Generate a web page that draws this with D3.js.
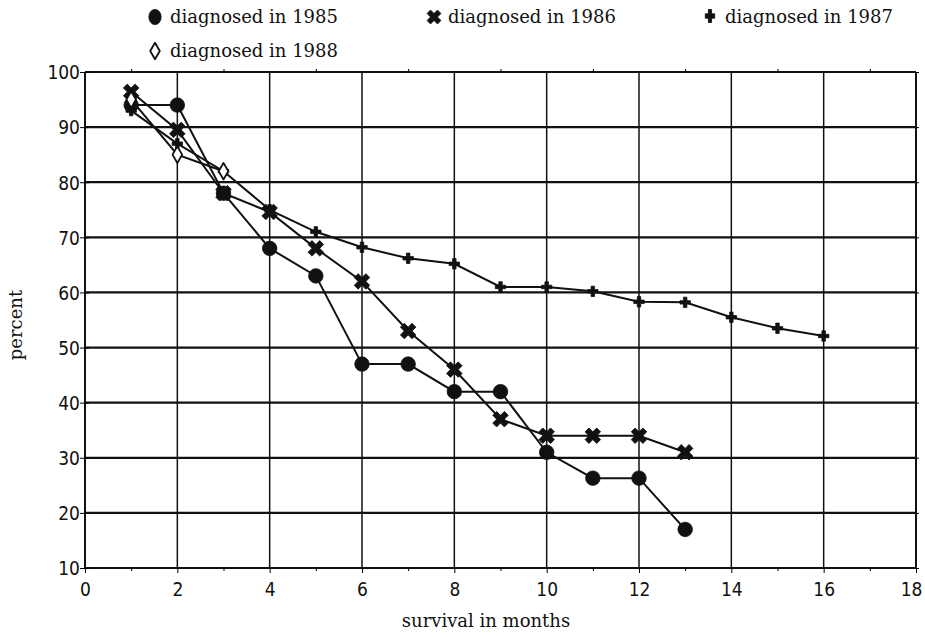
<!DOCTYPE html>
<html>
<head>
<meta charset="utf-8">
<script src="https://cdn.jsdelivr.net/npm/d3@7"></script>
<style>
body { margin: 0; background: #fff; }
.tick-label { font-family: "Liberation Sans Narrow", "DejaVu Sans Condensed", "DejaVu Sans", sans-serif; font-stretch: condensed; font-size: 19px; fill: #111; }
.serif { font-family: "DejaVu Serif", "Liberation Serif", serif; fill: #111; }
</style>
</head>
<body>
<div id="chart"></div>
<script>
// values
var months1985 = [1, 2, 3, 4, 5, 6, 7, 8, 9, 10, 11, 12, 13];
var pct1985 = [94, 94, 78, 68, 63, 47, 47, 42, 42, 31, 26.3, 26.3, 17];
var months1986 = [1, 2, 3, 4, 5, 6, 7, 8, 9, 10, 11, 12, 13];
var pct1986 = [96.4, 89.5, 78, 74.6, 68, 62, 53, 46, 37, 34, 34, 34, 31];
var months1987 = [1, 2, 3, 4, 5, 6, 7, 8, 9, 10, 11, 12, 13, 14, 15, 16];
var pct1987 = [93, 87, 82, 75, 71, 68.2, 66.2, 65.2, 61, 61, 60.2, 58.3, 58.2, 55.5, 53.5, 52.1];
var months1988 = [1, 2, 3];
var pct1988 = [95, 85, 82];

var xTicks = [0, 2, 4, 6, 8, 10, 12, 14, 16, 18];
var xMinor = [1, 3, 5, 7, 9, 11, 13, 15, 17];
var yTicks = [10, 20, 30, 40, 50, 60, 70, 80, 90, 100];

var w = 925;
var h = 637;

var svg = d3.select("div#chart")
.append("svg")
.attr("width", w)
.attr("height", h);

var x = d3.scaleLinear().domain([0, 18]).range([85, 916]);
var y = d3.scaleLinear().domain([10, 100]).range([568, 72]);

function zip(ms, ps){
    var out = [];
    for(var i=0; i < ms.length; i++){
        out.push({m: ms[i], p: ps[i]});
    }
    return out;
}

var series = [
    {name: "diagnosed in 1985", pts: zip(months1985, pct1985), sym: "circle"},
    {name: "diagnosed in 1986", pts: zip(months1986, pct1986), sym: "x"},
    {name: "diagnosed in 1987", pts: zip(months1987, pct1987), sym: "plus"},
    {name: "diagnosed in 1988", pts: zip(months1988, pct1988), sym: "diamond"}
];

// grid
svg.selectAll(".hgrid")
    .data(yTicks)
    .enter()
    .append("line")
        .attr("x1", x(0)).attr("x2", x(18))
        .attr("y1", function(d){ return y(d) })
        .attr("y2", function(d){ return y(d) })
        .attr("stroke", "#111")
        .attr("stroke-width", 2.2);

svg.selectAll(".vgrid")
    .data(xTicks)
    .enter()
    .append("line")
        .attr("x1", function(d){ return x(d) })
        .attr("x2", function(d){ return x(d) })
        .attr("y1", y(100)).attr("y2", y(10))
        .attr("stroke", "#111")
        .attr("stroke-width", function(d){ return (d == 0 || d == 18) ? 2 : 1.5 });

// axes
var xAxis = d3.axisBottom(x).tickValues(xTicks).tickSize(5).tickSizeOuter(0);
var gx = svg.append("g").attr("transform", "translate(0," + y(10) + ")").call(xAxis);
gx.select(".domain").remove();
gx.attr("font-size", null).attr("font-family", null);
gx.selectAll("text").attr("class", "tick-label").attr("dy", "1.05em")
    .attr("x", function(d){ return d == 18 ? -5 : 0 });

var xAxisMinor = d3.axisBottom(x).tickValues(xMinor).tickSize(3).tickFormat("");
var gxm = svg.append("g").attr("transform", "translate(0," + y(10) + ")").call(xAxisMinor);
gxm.select(".domain").remove();

var xTopMinor = d3.axisTop(x).tickValues(xMinor).tickSize(3).tickFormat("");
var gxt = svg.append("g").attr("transform", "translate(0," + y(100) + ")").call(xTopMinor);
gxt.select(".domain").remove();

var yAxis = d3.axisLeft(y).tickValues(yTicks).tickSize(5).tickSizeOuter(0);
var gy = svg.append("g").attr("transform", "translate(" + x(0) + ",0)").call(yAxis);
gy.select(".domain").remove();
gy.attr("font-size", null).attr("font-family", null);
gy.selectAll("text").attr("class", "tick-label").attr("x", -5).attr("dy", "0.36em");
gy.selectAll(".tick line").attr("x2", -5).attr("x1", 4);

var yRight = d3.axisRight(y).tickValues(yTicks).tickSize(3).tickFormat("");
var gyr = svg.append("g").attr("transform", "translate(" + x(18) + ",0)").call(yRight);
gyr.select(".domain").remove();

// series
var line = d3.line()
    .x(function(d){ return x(d.m) })
    .y(function(d){ return y(d.p) });

svg.selectAll(".series")
    .data(series)
    .enter()
    .append("path")
        .attr("d", function(d){ return line(d.pts) })
        .attr("fill", "none")
        .attr("stroke", "#111")
        .attr("stroke-width", 2);

function symPath(s){
    if(s == "circle") return d3.symbol().type(d3.symbolCircle).size(165)();
    if(s == "x") return d3.symbol().type(d3.symbolCross).size(150)();
    if(s == "plus") return d3.symbol().type(d3.symbolCross).size(60)();
    return d3.symbol().type(d3.symbolDiamond).size(80)();
}

function drawMarker(g, s, px, py){
    var p = g.append("path")
        .attr("d", symPath(s))
        .attr("transform", "translate(" + px + "," + py + ")" + (s == "x" ? " rotate(45)" : ""))
        .attr("fill", s == "diamond" ? "#fff" : "#111")
        .attr("stroke", "#111")
        .attr("stroke-width", s == "diamond" ? 1.8 : 0.8)
        .attr("stroke-linejoin", "round");
    return p;
}

var mk = svg.append("g");
series.forEach(function(sr){
    sr.pts.forEach(function(d){
        drawMarker(mk, sr.sym, x(d.m), y(d.p));
    });
});

// legend
var legendPos = [
    {mx: 155, my: 17, tx: 170, ty: 23},
    {mx: 434, my: 17, tx: 448, ty: 23},
    {mx: 710, my: 16, tx: 725, ty: 23},
    {mx: 155, my: 51, tx: 170, ty: 57}
];
series.forEach(function(sr, i){
    var lp = legendPos[i];
    var m = drawMarker(svg, sr.sym, lp.mx, lp.my);
    if(sr.sym == "plus"){
        m.attr("transform", "translate(" + lp.mx + "," + lp.my + ") scale(0.9,1.25)");
    }
    if(sr.sym == "circle"){
        m.attr("transform", "translate(" + lp.mx + "," + lp.my + ") scale(0.85,1.05)");
    }
    if(sr.sym == "x"){
        m.attr("d", d3.symbol().type(d3.symbolCross).size(120)());
    }
    svg.append("text")
        .attr("class", "serif")
        .attr("x", lp.tx)
        .attr("y", lp.ty)
        .style("font-size", "18px")
        .text(sr.name);
});

// axis titles
svg.append("text")
    .attr("class", "serif")
    .attr("text-anchor", "middle")
    .attr("x", 486)
    .attr("y", 627)
    .style("font-size", "18px")
    .text("survival in months");

svg.append("text")
    .attr("class", "serif")
    .attr("text-anchor", "middle")
    .attr("transform", "translate(22,325) rotate(-90)")
    .style("font-size", "18px")
    .text("percent");
</script>
</body>
</html>
